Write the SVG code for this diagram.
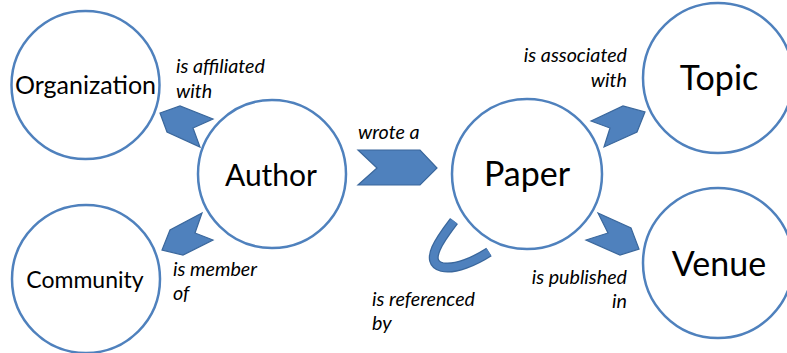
<svg xmlns="http://www.w3.org/2000/svg" width="787" height="353" viewBox="0 0 787 353">
<style>
.node{fill:#fff;stroke:#4F81BD;stroke-width:2.5}
.nt{font-family:Lato,"Liberation Sans",sans-serif;fill:#000;text-anchor:middle}
.lb{font-family:Lato,"Liberation Sans",sans-serif;font-style:italic;font-size:19.7px;fill:#000}
.r{text-anchor:end}
.arr{fill:#4F81BD;stroke:#3A679C;stroke-width:1.2;stroke-linejoin:miter}
</style>
<rect width="787" height="353" fill="#fff"/>
<g id="connectors">
<polygon class="arr" points="160,113 180,106 213,119 193,128 200,147 167,132"/>
<polygon class="arr" points="202,213 195,233 213,240 183,255 162,250 170,230"/>
<polygon class="arr" points="358,150 420,150 437,168 420,185 358,185 377,168"/>
<polygon class="arr" points="591,121 623,106 645,112 637,132 604,147 610,128"/>
<polygon class="arr" points="598,213 631,228 639,249 620,255 586,240 608,233"/>
<path d="M454 221 C441 238,423 262,442 267 C455 270,475 261,489 252" fill="none" stroke="#3A679C" stroke-width="10"/>
<path d="M454 221 C441 238,423 262,442 267 C455 270,475 261,489 252" fill="none" stroke="#4F81BD" stroke-width="7.5"/>
<text class="lb" x="176" y="73">is affiliated</text>
<text class="lb" x="176" y="98">with</text>
<text class="lb" x="358" y="139">wrote a</text>
<text class="lb r" x="627" y="62">is associated</text>
<text class="lb r" x="627" y="87">with</text>
<text class="lb" x="173" y="276">is member</text>
<text class="lb" x="173" y="300">of</text>
<text class="lb" x="372" y="306">is referenced</text>
<text class="lb" x="372" y="330">by</text>
<text class="lb r" x="627" y="284">is published</text>
<text class="lb r" x="627" y="308">in</text>
</g>
<g id="organization"><circle class="node" cx="85.5" cy="85" r="74"/><text class="nt" x="85.5" y="94" font-size="25">Organization</text></g>
<g id="author"><circle class="node" cx="272" cy="174" r="74"/><text class="nt" x="271" y="186" font-size="30">Author</text></g>
<g id="community"><circle class="node" cx="86" cy="279" r="74"/><text class="nt" x="85" y="288" font-size="23">Community</text></g>
<g id="paper"><circle class="node" cx="527" cy="174" r="75"/><text class="nt" x="527" y="186" font-size="34">Paper</text></g>
<g id="topic"><circle class="node" cx="718" cy="78" r="75"/><text class="nt" x="719" y="90" font-size="34">Topic</text></g>
<g id="venue"><circle class="node" cx="718" cy="263" r="75"/><text class="nt" x="719" y="276" font-size="34">Venue</text></g>
</svg>
